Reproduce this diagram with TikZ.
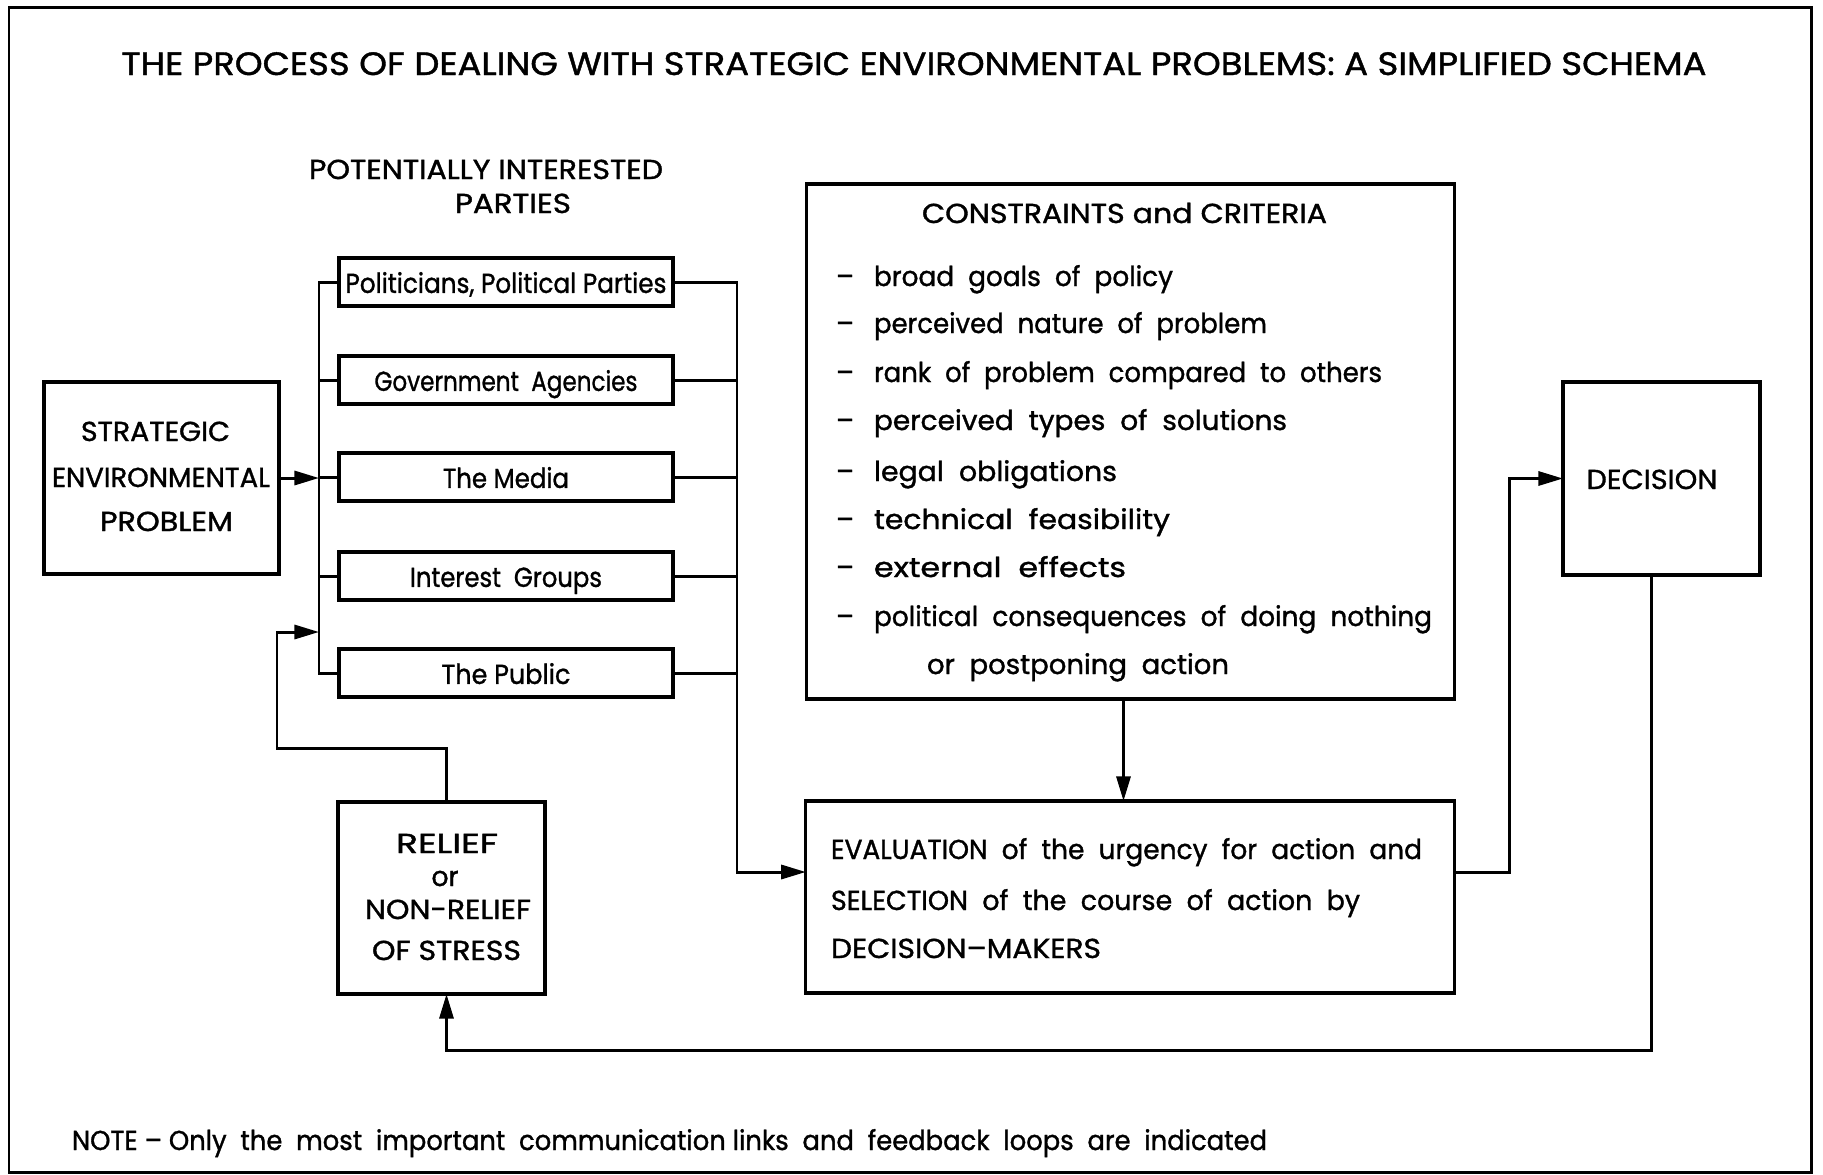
\documentclass[tikz,border=0pt]{standalone}
\usepackage{fontspec}
\setmainfont{Poppins}[FakeBold=1.2]
\usepackage{graphicx}
\usetikzlibrary{arrows.meta,calc}

% one drawing unit = 0.01cm; \fw sets a text to a given width in those units
\newlength\pxu
\setlength\pxu{0.01cm}
\newcommand\fw[2]{\resizebox{#1\pxu}{\height}{#2}}

\tikzset{
  box/.style={draw, line width=0.95pt, inner sep=0pt, outer sep=0pt},
  link/.style={line width=0.85pt},
  arr/.style={link, -{Triangle[length=7pt,width=4pt]}},
  lbl/.style={inner sep=0pt, outer sep=0pt, font=\fontsize{7.8}{9}\selectfont},
  party/.style={box, lbl, minimum width=3.34cm, minimum height=0.48cm,
                text height=6.2pt, text depth=0pt},
  item/.style={lbl, anchor=base west},
  dashmark/.style={lbl, anchor=base}
}

\begin{document}
\begin{tikzpicture}[x=0.01cm,y=-0.01cm]
\useasboundingbox[fill=white] (0,0) rectangle (1823,1175);
\draw[line width=0.85pt] (9,7) rectangle (1811,1172);

% headings
\node[lbl, anchor=base, font=\fontsize{9.2}{11}\selectfont] (title) at (914,75)
  {\fw{1585}{THE PROCESS OF DEALING WITH STRATEGIC ENVIRONMENTAL PROBLEMS: A SIMPLIFIED SCHEMA}};
\node[lbl, anchor=base] (pip1) at (486,179) {\fw{354}{POTENTIALLY INTERESTED}};
\node[lbl, anchor=base] (pip2) at (513,213) {\fw{116}{PARTIES}};

% problem box
\node[box, minimum width=2.35cm, minimum height=1.92cm] (sep) at (161.5,478) {};
\node[lbl, anchor=base] (sep1) at (155.5,441) {\fw{149}{STRATEGIC}};
\node[lbl, anchor=base] (sep2) at (161,487) {\fw{218}{ENVIRONMENTAL}};
\node[lbl, anchor=base] (sep3) at (166.5,531) {\fw{133}{PROBLEM}};

% interested parties
\node[party] (pol) at (506,282) {\fw{321}{Politicians, Political Parties}};
\node[party] (gov) at (506,380) {\fw{263}{Government\ \ Agencies}};
\node[party] (med) at (506,477) {\fw{126}{The Media}};
\node[party] (igr) at (506,576) {\fw{192}{Interest\ \ Groups}};
\node[party] (pub) at (506,673) {\fw{129}{The Public}};

\coordinate (busL) at (319,0);
\coordinate (busR) at (737,0);

% constraints and criteria
\node[box, minimum width=6.47cm, minimum height=5.15cm] (cc) at (1130.5,441.5) {};
\node[lbl, anchor=base] (cct) at (1124.5,223) {\fw{405}{CONSTRAINTS and CRITERIA}};
\foreach \n/\y/\w/\t in {
   c1/286/299/{broad\ \ goals\ \ of\ \ policy},
   c2/333/393/{perceived\ \ nature\ \ of\ \ problem},
   c3/382/508/{rank\ \ of\ \ problem\ \ compared\ \ to\ \ others},
   c4/430/413/{perceived\ \ types\ \ of\ \ solutions},
   c5/481/243/{legal\ \ obligations},
   c6/529/296/{technical\ \ feasibility},
   c7/577/252/{external\ \ effects},
   c8/626/558/{political\ \ consequences\ \ of\ \ doing\ \ nothing}}{
  \node[dashmark] (\n d) at (845,\y) {\fw{18}{–}};
  \node[item] (\n) at (874,\y) {\fw{\w}{\t}};
}
\node[item] (c9) at (927,674) {\fw{302}{or\ \ postponing\ \ action}};

% evaluation
\node[box, minimum width=6.48cm, minimum height=1.92cm] (ev) at (1130,897) {};
\node[item] (ev1) at (831,859) {\fw{591}{EVALUATION\ \ of\ \ the\ \ urgency\ \ for\ \ action\ \ and}};
\node[item] (ev2) at (831,910) {\fw{529}{SELECTION\ \ of\ \ the\ \ course\ \ of\ \ action\ \ by}};
\node[item] (ev3) at (831,958) {\fw{270}{DECISION–MAKERS}};

% decision
\node[box, minimum width=1.97cm, minimum height=1.93cm] (dec) at (1661.5,478.5) {};
\node[lbl, anchor=base] (dect) at (1652,489) {\fw{131}{DECISION}};

% relief
\node[box, minimum width=2.07cm, minimum height=1.92cm] (rel) at (441.5,898) {};
\node[lbl, anchor=base] (rel1) at (447,853) {\fw{102}{RELIEF}};
\node[lbl, anchor=base] (rel2) at (445,886) {\fw{27}{or}};
\node[lbl, anchor=base] (rel3) at (448,919) {\fw{166}{NON-RELIEF}};
\node[lbl, anchor=base] (rel4) at (446.5,960) {\fw{149}{OF STRESS}};

% note
\node[item] (note) at (72,1150)
  {\fw{1195}{NOTE – Only\ \ the\ \ most\ \ important\ \ communication links\ \ and\ \ feedback\ \ loops\ \ are\ \ indicated}};

% problem to the parties
\draw[arr] (sep.east) -- (sep.east -| busL);
\draw[link] (pol.west) -| (busL |- pub.west) -- (pub.west);
\foreach \p in {gov,med,igr} \draw[link] (\p.west) -- (\p.west -| busL);

% parties to evaluation
\coordinate (evin) at ($(ev.west)+(0,-25)$);
\coordinate (evout) at ($(ev.east)+(0,-25)$);
\draw[arr] (pol.east) -| (busR |- evin) -- (evin);
\foreach \p in {gov,med,igr,pub} \draw[link] (\p.east) -- (\p.east -| busR);

% constraints to evaluation, evaluation to decision
\coordinate (ccout) at ($(cc.south)+(-7,0)$);
\draw[arr] (ccout) -- (ccout |- ev.north);
\draw[arr] (evout) -- ++(55,0) |- (dec.west);

% feedback loops
\coordinate (decout) at ($(dec.south)+(-10,0)$);
\coordinate (relin) at ($(rel.south)+(5,0)$);
\coordinate (relout) at ($(rel.north)+(5,0)$);
\draw[arr] (decout) -- ++(0,475) -| (relin);
\coordinate (fbL) at (277,632);
\draw[arr] (relout) -- ++(0,-53) -| (fbL) -- (fbL -| busL);
\end{tikzpicture}
\end{document}
